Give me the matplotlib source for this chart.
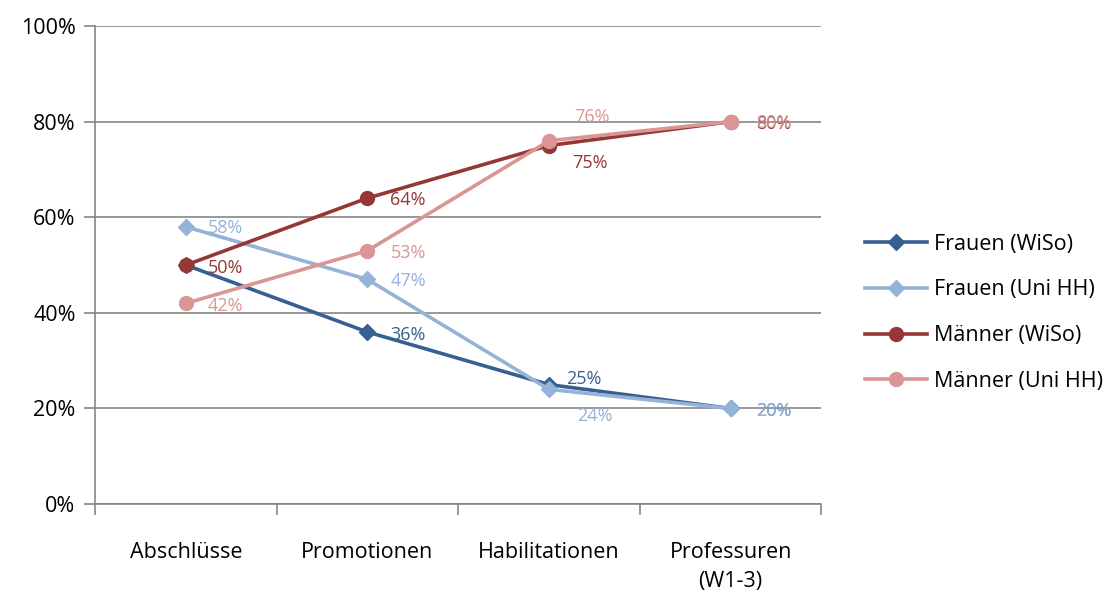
import matplotlib.pyplot as plt
from matplotlib.ticker import FixedLocator

plt.rcParams['font.family'] = ['Open Sans', 'DejaVu Sans']

categories = ["Abschlüsse", "Promotionen", "Habilitationen", "Professuren\n(W1-3)"]
frauen_wiso = [50, 36, 25, 20]
frauen_unihh = [58, 47, 24, 20]
maenner_wiso = [50, 64, 75, 80]
maenner_unihh = [42, 53, 76, 80]
y_ticks = [0, 20, 40, 60, 80, 100]

series = [
    ("Frauen (WiSo)", frauen_wiso, "#376092", "D", 8),
    ("Frauen (Uni HH)", frauen_unihh, "#95B3D7", "D", 8),
    ("Männer (WiSo)", maenner_wiso, "#953735", "o", 10),
    ("Männer (Uni HH)", maenner_unihh, "#D99694", "o", 10),
]
# label offsets in pixels (dx, dy) per series and point
label_offsets = [
    [None, (23, -3), (17, 6), (25, -3)],
    [(22, -1), (23, -2), (28, -27), (25, -3)],
    [(22, -3), (23, -2), (23, -17), (25, -2)],
    [(22, -3), (23, -2), (25, 24), (25, -1)],
]

fig = plt.figure(figsize=(11.09, 5.91), dpi=100)
ax = fig.add_axes([0.0857, 0.147, 0.655, 0.809])

x = list(range(len(categories)))
for (name, vals, color, marker, ms), offs in zip(series, label_offsets):
    ax.plot(x, vals, color=color, lw=2.6, marker=marker, markersize=ms,
            label=name, zorder=3)
    for xi, v, off in zip(x, vals, offs):
        if off is None:
            continue
        ax.annotate(f"{v}%", (xi, v), xytext=off, textcoords='offset pixels',
                    ha='left', va='center', color=color, fontsize=13, zorder=4)

ax.set_xlim(-0.5, len(categories) - 0.5)
ax.set_ylim(0, 100)
ax.set_yticks(y_ticks)
ax.set_yticklabels([f"{t}%" for t in y_ticks], fontsize=15.5)
ax.set_xticks(x)
ax.set_xticklabels(categories, fontsize=15.5, linespacing=1.5)
ax.xaxis.set_minor_locator(FixedLocator([i - 0.5 for i in range(len(categories) + 1)]))
ax.tick_params(axis='x', which='major', length=0, pad=27)
ax.tick_params(axis='x', which='minor', length=8, color='#868686', width=1.2)
ax.tick_params(axis='y', length=8, color='#868686', width=1.2, pad=6)
ax.grid(axis='y', color='#868686', lw=1.2, zorder=0)
for s in ['top', 'right']:
    ax.spines[s].set_visible(False)
for s in ['left', 'bottom']:
    ax.spines[s].set_color('#868686')
    ax.spines[s].set_linewidth(1.2)

ax.legend(loc='center left', bbox_to_anchor=(1.06, 0.40), frameon=False,
          borderaxespad=0, borderpad=0,
          fontsize=15.5, handlelength=2.9, handletextpad=0.3, labelspacing=1.15)

fig.savefig("out.png", dpi=100)
